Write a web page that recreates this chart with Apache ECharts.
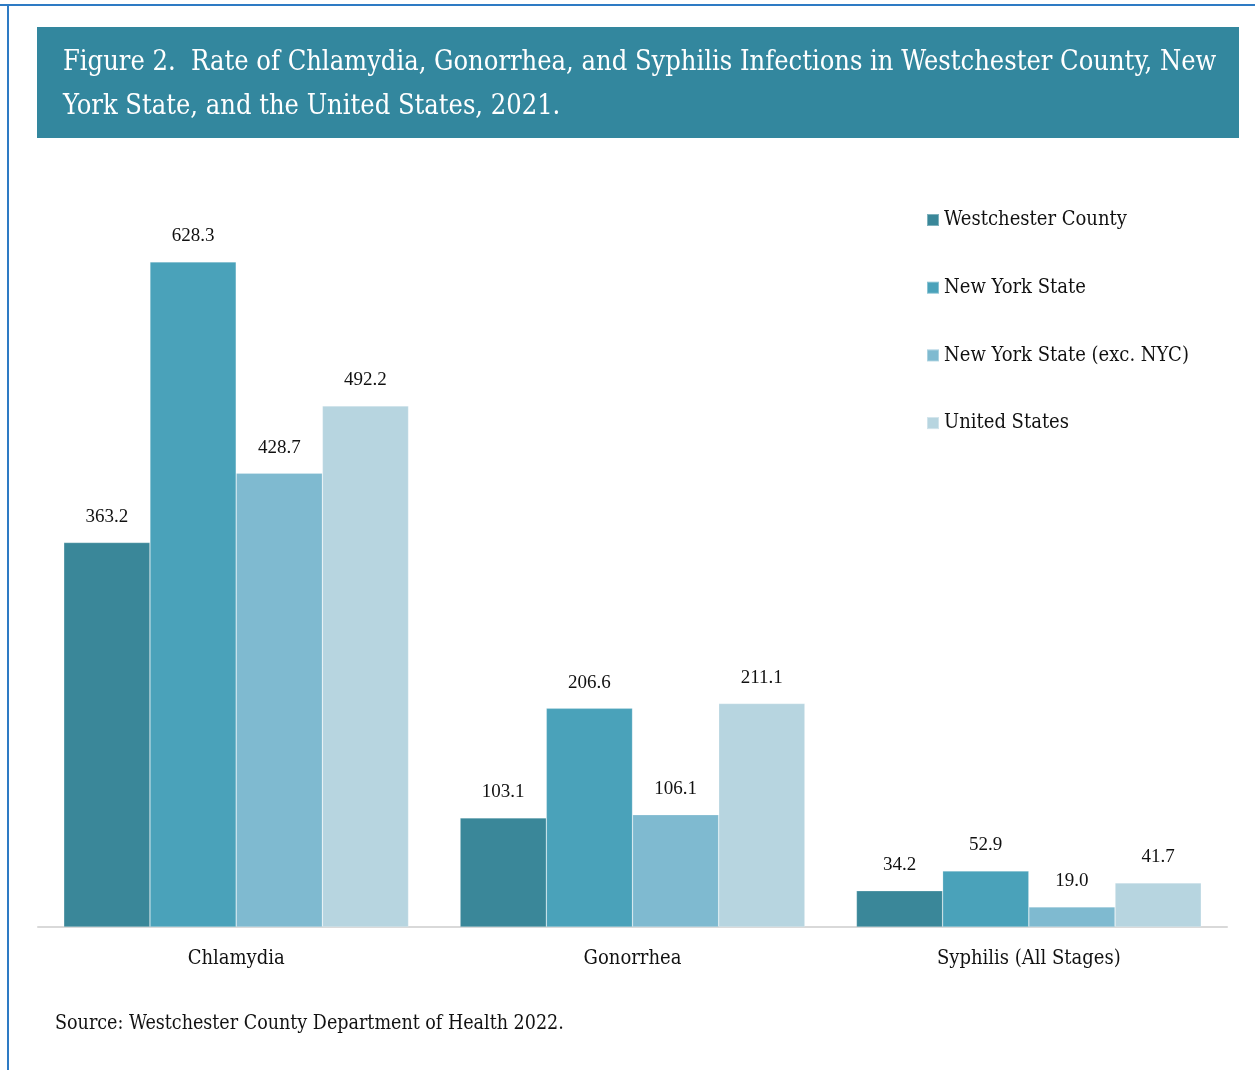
<!DOCTYPE html>
<html><head><meta charset="utf-8">
<script src="https://cdn.jsdelivr.net/npm/echarts@6/dist/echarts.min.js"></script>
<style>html,body{margin:0;padding:0;background:#fff}#c{width:1255px;height:1070px}</style>
</head><body><div id="c"></div>
<script>
const categories = ['Chlamydia', 'Gonorrhea', 'Syphilis (All Stages)'];
const seriesNames = ['Westchester County', 'New York State', 'New York State (exc. NYC)', 'United States'];
const westchester = [363.2, 103.1, 34.2];
const newYorkState = [628.3, 206.6, 52.9];
const nysExcNYC = [428.7, 106.1, 19.0];
const unitedStates = [492.2, 211.1, 41.7];
const colors = ['#3A8799', '#4AA2BA', '#7FBAD0', '#B7D5E0'];
const titleLines = ['Figure 2.  Rate of Chlamydia, Gonorrhea, and Syphilis Infections in Westchester County, New', 'York State, and the United States, 2021.'];
const sourceText = 'Source: Westchester County Department of Health 2022.';

const FONT = '"DejaVu Serif Condensed", "Liberation Serif", serif';
const NUMFONT = '"Liberation Serif", serif';
const allData = [westchester, newYorkState, nysExcNYC, unitedStates];
const chart = echarts.init(document.getElementById('c'), null, {renderer: 'canvas'});
chart.setOption({
  animation: false,
  backgroundColor: '#fff',
  color: colors,
  grid: {left: 38, right: 28, top: 186, bottom: 143, containLabel: false},
  legend: {
    orient: 'vertical', left: 921, top: 205, itemWidth: 12, itemHeight: 12, itemGap: 47.7,
    icon: 'rect',
    textStyle: {fontFamily: FONT, fontSize: 20, color: '#111'},
    data: seriesNames
  },
  xAxis: {
    type: 'category', data: categories,
    axisLine: {lineStyle: {color: '#D9D9D9', width: 2}},
    axisTick: {show: false},
    axisLabel: {fontFamily: FONT, fontSize: 20, color: '#111', margin: 22}
  },
  yAxis: {type: 'value', min: 0, max: 700, show: false, splitLine: {show: false}},
  series: seriesNames.map((n, i) => ({
    name: n, type: 'bar', data: allData[i],
    barGap: '0%', barCategoryGap: '13%',
    itemStyle: {borderColor: 'rgba(255,255,255,0.35)', borderWidth: 0.6},
    label: {show: true, position: 'top', distance: 16, fontFamily: NUMFONT, fontSize: 19, color: '#111',
      formatter: p => p.value.toFixed(1)}
  })),
  graphic: [
    {type: 'line', shape: {x1: 0, y1: 5, x2: 1255, y2: 5}, style: {stroke: '#2E7BC4', lineWidth: 2}},
    {type: 'line', shape: {x1: 8, y1: 4, x2: 8, y2: 1070}, style: {stroke: '#2E7BC4', lineWidth: 2}},
    {type: 'rect', shape: {x: 37, y: 27, width: 1202, height: 111}, style: {fill: '#33879E'}},
    {type: 'text', left: 63, top: 41, style: {text: titleLines.join('\n'), fill: '#fff', font: '27px ' + FONT, lineHeight: 44}},
    {type: 'text', left: 55, top: 1014, style: {text: sourceText, fill: '#111', font: '19.5px ' + FONT}}
  ]
});
</script></body></html>
